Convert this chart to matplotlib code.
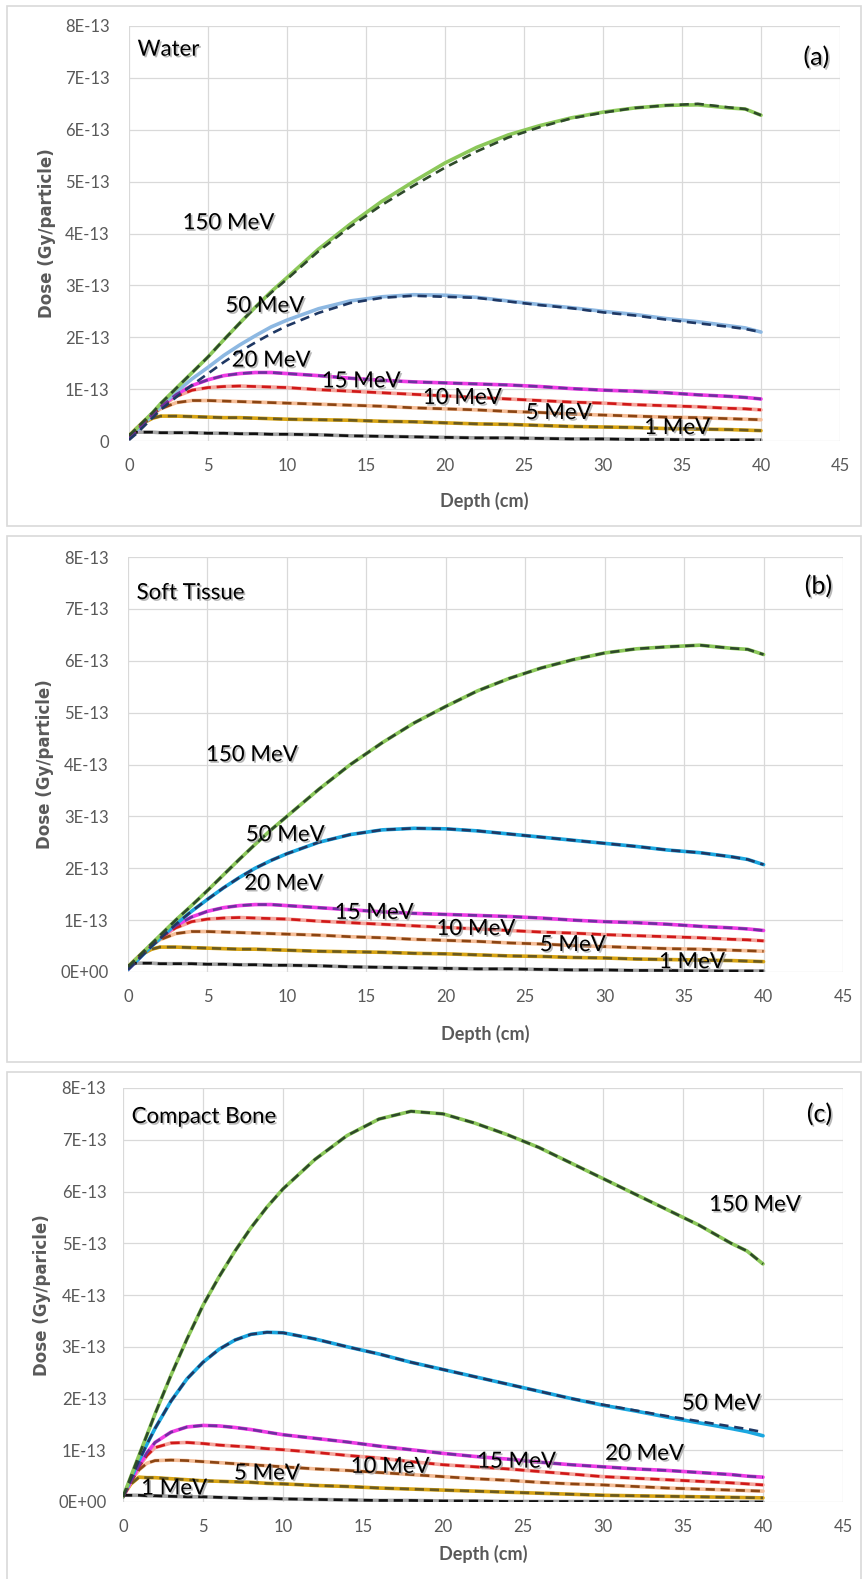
import matplotlib.pyplot as plt
import matplotlib.patheffects as pe
from matplotlib.patches import Rectangle
import numpy as np

# depth grid (cm) used by every curve
depth = [0, 0.5, 1, 1.5, 2, 3, 4, 5, 6, 7, 8, 9, 10, 12, 14, 16, 18, 20,
         22, 24, 26, 28, 30, 32, 34, 36, 38, 39, 40]

energies = ['150 MeV', '50 MeV', '20 MeV', '15 MeV', '10 MeV', '5 MeV', '1 MeV']

# dose values in units of 1E-13 Gy/particle
water = {
    '150 MeV': [0.1, 0.25, 0.4, 0.55, 0.72, 1.02, 1.32, 1.62, 1.95, 2.27, 2.58, 2.88, 3.15, 3.7, 4.18, 4.62, 5.0, 5.36,
                5.66, 5.9, 6.08, 6.23, 6.34, 6.42, 6.47, 6.48, 6.42, 6.4, 6.28],
    '50 MeV': [0.05, 0.2, 0.35, 0.5, 0.66, 0.95, 1.2, 1.42, 1.65, 1.85, 2.03, 2.2, 2.33, 2.55, 2.7, 2.78, 2.82, 2.81,
               2.77, 2.7, 2.63, 2.57, 2.5, 2.44, 2.36, 2.3, 2.22, 2.18, 2.1],
    '20 MeV': [0.05, 0.2, 0.37, 0.52, 0.66, 0.9, 1.07, 1.18, 1.26, 1.3, 1.32, 1.32, 1.3, 1.26, 1.21, 1.17, 1.14, 1.12,
               1.1, 1.08, 1.05, 1.01, 0.98, 0.96, 0.93, 0.89, 0.86, 0.84, 0.81],
    '15 MeV': [0.05, 0.2, 0.37, 0.52, 0.66, 0.86, 0.98, 1.03, 1.05, 1.06, 1.05, 1.04, 1.03, 0.99, 0.96, 0.93, 0.9, 0.87,
               0.84, 0.81, 0.78, 0.75, 0.73, 0.7, 0.68, 0.66, 0.63, 0.62, 0.6],
    '10 MeV': [0.08, 0.25, 0.4, 0.52, 0.62, 0.74, 0.78, 0.78, 0.77, 0.76, 0.75, 0.74, 0.73, 0.71, 0.69, 0.67, 0.64, 0.62,
               0.6, 0.57, 0.55, 0.52, 0.5, 0.48, 0.46, 0.45, 0.43, 0.42, 0.41],
    '5 MeV': [0.1, 0.25, 0.36, 0.44, 0.48, 0.48, 0.47, 0.46, 0.45, 0.45, 0.44, 0.43, 0.42, 0.41, 0.4, 0.38, 0.37, 0.35,
              0.33, 0.32, 0.3, 0.28, 0.27, 0.26, 0.24, 0.23, 0.22, 0.21, 0.2],
    '1 MeV': [0.12, 0.17, 0.17, 0.17, 0.16, 0.16, 0.16, 0.15, 0.15, 0.14, 0.14, 0.13, 0.13, 0.12, 0.1, 0.09, 0.08, 0.07,
              0.06, 0.06, 0.05, 0.04, 0.04, 0.03, 0.03, 0.02, 0.02, 0.02, 0.02],
}
# where the dashed (reference) curve visibly departs from the solid one
water_dashed = {
    '50 MeV': [0.02, 0.15, 0.3, 0.45, 0.6, 0.85, 1.08, 1.3, 1.52, 1.72, 1.9, 2.07, 2.22, 2.47, 2.66, 2.76, 2.8, 2.78,
               2.76, 2.69, 2.62, 2.56, 2.48, 2.42, 2.34, 2.27, 2.2, 2.16, 2.1],
    '150 MeV': [0.1, 0.25, 0.4, 0.55, 0.72, 1.02, 1.32, 1.62, 1.95, 2.27, 2.58, 2.86, 3.12, 3.66, 4.13, 4.55, 4.92, 5.27,
                5.58, 5.85, 6.05, 6.22, 6.33, 6.42, 6.47, 6.5, 6.43, 6.4, 6.28],
}

tissue = {
    '150 MeV': [0.1, 0.25, 0.4, 0.55, 0.7, 1.0, 1.28, 1.57, 1.87, 2.17, 2.46, 2.74, 3.0, 3.52, 4.0, 4.42, 4.8, 5.12,
                5.42, 5.66, 5.86, 6.02, 6.15, 6.23, 6.27, 6.3, 6.24, 6.22, 6.12],
    '50 MeV': [0.05, 0.2, 0.35, 0.5, 0.64, 0.92, 1.17, 1.4, 1.62, 1.82, 2.0, 2.15, 2.28, 2.5, 2.65, 2.74, 2.77, 2.76,
               2.72, 2.66, 2.6, 2.54, 2.48, 2.42, 2.35, 2.3, 2.22, 2.17, 2.07],
    '20 MeV': [0.05, 0.2, 0.36, 0.51, 0.65, 0.89, 1.06, 1.17, 1.24, 1.28, 1.3, 1.3, 1.28, 1.24, 1.2, 1.16, 1.13, 1.11,
               1.09, 1.07, 1.04, 1.0, 0.97, 0.95, 0.92, 0.88, 0.85, 0.83, 0.8],
    '15 MeV': [0.05, 0.2, 0.36, 0.51, 0.65, 0.85, 0.97, 1.02, 1.04, 1.05, 1.04, 1.03, 1.02, 0.98, 0.95, 0.92, 0.89, 0.86,
               0.83, 0.8, 0.77, 0.75, 0.72, 0.7, 0.68, 0.66, 0.63, 0.62, 0.6],
    '10 MeV': [0.08, 0.25, 0.4, 0.52, 0.62, 0.74, 0.78, 0.78, 0.77, 0.76, 0.75, 0.74, 0.73, 0.71, 0.68, 0.66, 0.63, 0.61,
               0.59, 0.56, 0.54, 0.51, 0.49, 0.47, 0.45, 0.44, 0.42, 0.41, 0.4],
    '5 MeV': [0.1, 0.25, 0.36, 0.44, 0.48, 0.48, 0.47, 0.46, 0.45, 0.44, 0.44, 0.43, 0.42, 0.4, 0.39, 0.38, 0.36, 0.35,
              0.33, 0.31, 0.3, 0.28, 0.27, 0.25, 0.24, 0.23, 0.22, 0.21, 0.2],
    '1 MeV': [0.12, 0.17, 0.17, 0.17, 0.16, 0.16, 0.16, 0.15, 0.15, 0.14, 0.14, 0.13, 0.13, 0.12, 0.1, 0.09, 0.08, 0.07,
              0.06, 0.06, 0.05, 0.04, 0.04, 0.03, 0.03, 0.02, 0.02, 0.02, 0.02],
}

bone = {
    '150 MeV': [0.1, 0.5, 0.9, 1.3, 1.7, 2.45, 3.15, 3.8, 4.35, 4.85, 5.3, 5.7, 6.05, 6.62, 7.08, 7.4, 7.55, 7.5,
                7.32, 7.1, 6.85, 6.55, 6.25, 5.95, 5.65, 5.35, 5.0, 4.85, 4.6],
    '50 MeV': [0.1, 0.45, 0.8, 1.12, 1.42, 1.95, 2.38, 2.7, 2.95, 3.13, 3.24, 3.28, 3.27, 3.15, 3.0, 2.86, 2.7, 2.56,
               2.42, 2.28, 2.14, 2.0, 1.87, 1.76, 1.64, 1.53, 1.42, 1.36, 1.28],
    '20 MeV': [0.1, 0.4, 0.7, 0.95, 1.15, 1.35, 1.45, 1.48, 1.47, 1.44, 1.4, 1.35, 1.3, 1.23, 1.16, 1.08, 1.01, 0.94,
               0.88, 0.83, 0.77, 0.72, 0.68, 0.64, 0.61, 0.57, 0.53, 0.5, 0.48],
    '15 MeV': [0.1, 0.4, 0.68, 0.9, 1.05, 1.14, 1.15, 1.13, 1.1, 1.08, 1.06, 1.03, 1.01, 0.96, 0.9, 0.85, 0.78, 0.72,
               0.68, 0.64, 0.59, 0.54, 0.49, 0.46, 0.43, 0.4, 0.37, 0.35, 0.33],
    '10 MeV': [0.1, 0.4, 0.62, 0.75, 0.8, 0.81, 0.8, 0.78, 0.76, 0.74, 0.72, 0.7, 0.68, 0.64, 0.61, 0.57, 0.53, 0.49,
               0.45, 0.42, 0.38, 0.35, 0.33, 0.3, 0.27, 0.25, 0.23, 0.22, 0.21],
    '5 MeV': [0.12, 0.35, 0.48, 0.47, 0.47, 0.45, 0.43, 0.41, 0.4, 0.39, 0.38, 0.36, 0.35, 0.32, 0.3, 0.27, 0.25, 0.23,
              0.21, 0.19, 0.17, 0.15, 0.13, 0.12, 0.11, 0.1, 0.09, 0.085, 0.08],
    '1 MeV': [0.13, 0.13, 0.13, 0.12, 0.12, 0.11, 0.1, 0.1, 0.09, 0.08, 0.07, 0.07, 0.06, 0.05, 0.04, 0.03, 0.03, 0.02,
              0.02, 0.01, 0.01, 0.01, 0.01, 0.01, 0.0, 0.0, 0.0, 0.0, 0.0],
}
bone_dashed = {
    '50 MeV': [0.1, 0.45, 0.8, 1.12, 1.42, 1.95, 2.38, 2.7, 2.95, 3.13, 3.24, 3.28, 3.27, 3.15, 3.0, 2.86, 2.7, 2.56,
               2.42, 2.28, 2.14, 2.0, 1.88, 1.77, 1.66, 1.56, 1.46, 1.41, 1.35],
}

xticks = [0, 5, 10, 15, 20, 25, 30, 35, 40, 45]
yticks = [0, 1, 2, 3, 4, 5, 6, 7, 8]
ylabels_a = ['0', '1E-13', '2E-13', '3E-13', '4E-13', '5E-13', '6E-13', '7E-13', '8E-13']
ylabels_bc = ['0E+00', '1E-13', '2E-13', '3E-13', '4E-13', '5E-13', '6E-13', '7E-13', '8E-13']

# label positions (depth, dose) per panel
lab_water = {'150 MeV': (6.3, 4.2), '50 MeV': (8.6, 2.6), '20 MeV': (9.0, 1.55), '15 MeV': (14.7, 1.15),
             '10 MeV': (21.1, 0.83), '5 MeV': (27.2, 0.54), '1 MeV': (34.7, 0.25)}
lab_tissue = {'150 MeV': (7.8, 4.18), '50 MeV': (9.9, 2.64), '20 MeV': (9.8, 1.7), '15 MeV': (15.5, 1.14),
              '10 MeV': (21.9, 0.83), '5 MeV': (28.0, 0.52), '1 MeV': (35.5, 0.19)}
lab_bone = {'150 MeV': (39.5, 5.74), '50 MeV': (37.4, 1.9), '20 MeV': (32.6, 0.93), '15 MeV': (24.6, 0.78),
            '10 MeV': (16.7, 0.68), '5 MeV': (9.0, 0.55), '1 MeV': (3.2, 0.26)}

solid_col = {'150 MeV': '#8CC85A', '50 MeV': '#1AA7E0', '20 MeV': '#F03CE6', '15 MeV': '#F5A79E',
             '10 MeV': '#F6BE98', '5 MeV': '#D9A514', '1 MeV': '#A8A8A8'}
dash_col = {'150 MeV': '#2E4A2A', '50 MeV': '#1F3864', '20 MeV': '#7030A0', '15 MeV': '#D01818',
            '10 MeV': '#8B4513', '5 MeV': '#6B5A1E', '1 MeV': '#111111'}

W, H = 864, 1579
fig = plt.figure(figsize=(W / 100, H / 100), dpi=100)
fig.patch.set_facecolor('white')

tick_font = 'Lato'
grey = '#595959'
shadow = [pe.withSimplePatchShadow(offset=(1.2, -1.2), shadow_rgbFace='#9a9a9a', alpha=0.7)]

# panel borders (pixels)
for top, bot in [(6, 526), (536, 1062), (1072, 1590)]:
    fig.patches.append(Rectangle((7 / W, 1 - bot / H), 854 / W, (bot - top) / H, transform=fig.transFigure,
                                 fill=False, edgecolor='#D9D9D9', linewidth=1.2))


def panel(box, data, dashed, labs, name, tag, name_y, tag_y, ylabs, ylab, blue, ypad, ylab_x, xlab_y):
    l, r, t, b = box
    ax = fig.add_axes([l / W, 1 - b / H, (r - l) / W, (b - t) / H])
    for e in energies[::-1]:
        c = blue if e == '50 MeV' else solid_col[e]
        ax.plot(depth, data[e], color=c, lw=2.6, solid_capstyle='round', zorder=3)
        ax.plot(depth, dashed.get(e, data[e]), color=dash_col[e], lw=1.9, linestyle=(0, (3.5, 2.2)), zorder=4)
    for e in energies:
        x, y = labs[e]
        ax.text(x, y, e, ha='center', va='center', fontsize=16, family='Lato', color='black',
                path_effects=shadow, zorder=6)
    ax.text(0.012, name_y, name, transform=ax.transAxes, ha='left', va='center', fontsize=16,
            family='Lato', path_effects=shadow)
    ax.text(0.985, tag_y, tag, transform=ax.transAxes, ha='right', va='center', fontsize=18,
            family='Lato', path_effects=shadow)
    ax.set_xlim(0, 45)
    ax.set_ylim(0, 8)
    ax.set_xticks(xticks)
    ax.set_yticks(yticks)
    ax.set_yticklabels(ylabs)
    ax.grid(True, color='#D9D9D9', lw=0.9)
    ax.set_axisbelow(True)
    for s in ax.spines.values():
        s.set_visible(False)
    ax.tick_params(length=0, labelsize=12, labelcolor=grey)
    ax.tick_params(axis='y', pad=ypad)
    ax.tick_params(axis='x', pad=12)
    for lb in ax.get_xticklabels() + ax.get_yticklabels():
        lb.set_family(tick_font)
    ax.set_ylabel(ylab, fontsize=12, fontweight='bold', color=grey, family='DejaVu Sans')
    ax.yaxis.set_label_coords(ylab_x, 0.5)
    ax.set_xlabel('Depth (cm)', fontsize=13, fontweight='bold', color=grey, family='Lato')
    ax.xaxis.set_label_coords(0.5, xlab_y)
    return ax


panel((129, 840, 26, 441), water, water_dashed, lab_water, 'Water', '(a)', 0.943, 0.925, ylabels_a,
      'Dose (Gy/particle)', '#8DB8E2', 14, -0.103, -0.123)
panel((128, 843, 557, 972), tissue, {}, lab_tissue, 'Soft Tissue', '(b)', 0.913, 0.93, ylabels_bc,
      'Dose (Gy/particle)', '#1AA7E0', 14, -0.103, -0.127)
panel((123, 843, 1088, 1502), bone, bone_dashed, lab_bone, 'Compact Bone', '(c)', 0.93, 0.937, ylabels_bc,
      'Dose (Gy/paricle)', '#1AA7E0', 12, -0.1, -0.103)

plt.savefig('out.png', dpi=100, facecolor='white')
